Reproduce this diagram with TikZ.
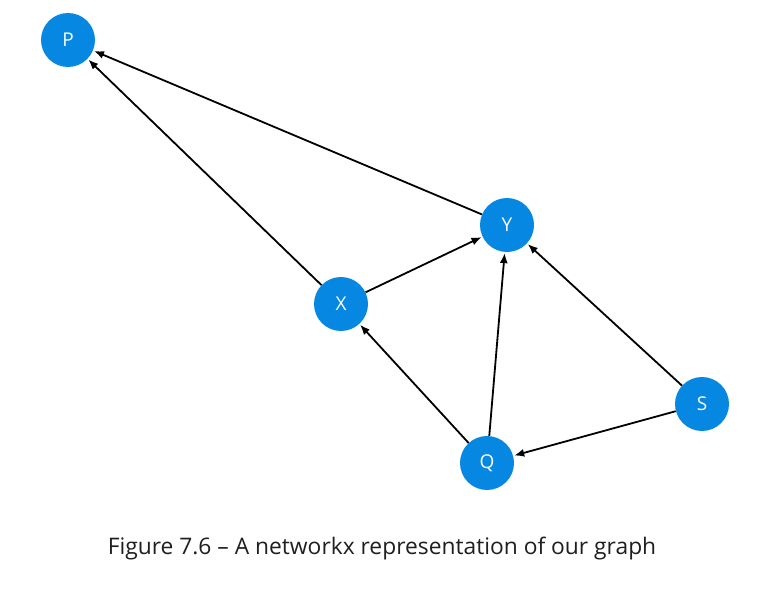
\documentclass[tikz,border=0pt]{standalone}
\usepackage{fontspec}
\setmainfont{Open Sans}
\usetikzlibrary{arrows.meta}
\definecolor{nodeblue}{RGB}{5,135,226}
\tikzset{
  vert/.style={circle, fill=nodeblue, draw=none, minimum size=54pt, inner sep=0pt, text=white, font=\fontsize{19}{21}\selectfont},
  edge/.style={line width=1.8pt, -{Latex[length=10pt,width=8pt]}, shorten >=1pt}
}
\begin{document}
\begin{tikzpicture}[x=1pt,y=-1pt]
\useasboundingbox (0,0) rectangle (772,591);
\node[vert] (P) at (68,40) {P};
\node[vert] (Y) at (507,225) {Y};
\node[vert] (X) at (341,304) {X};
\node[vert] (S) at (702,404) {S};
\node[vert] (Q) at (487,463) {Q};
\draw[edge] (Y) -- (P);
\draw[edge] (X) -- (P);
\draw[edge] (X) -- (Y);
\draw[edge] (Q) -- (X);
\draw[edge] (Q) -- (Y);
\draw[edge] (S) -- (Y);
\draw[edge] (S) -- (Q);
\node[font=\fontsize{22.8}{26}\selectfont, text=black!88] (cap) at (382,549) {Figure 7.6 – A networkx representation of our graph};
\end{tikzpicture}
\end{document}
